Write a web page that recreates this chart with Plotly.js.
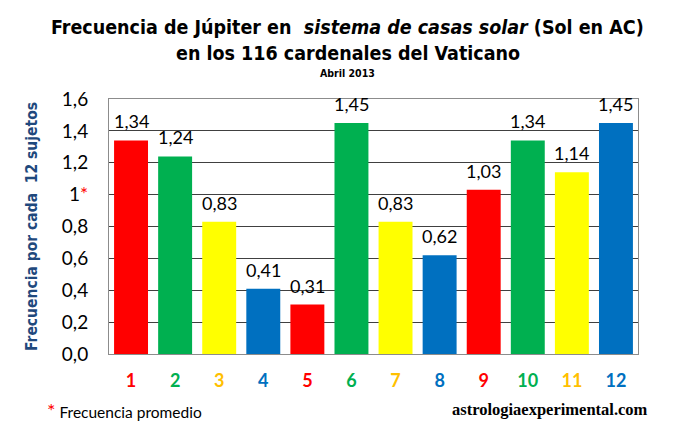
<!DOCTYPE html>
<html><head><meta charset="utf-8">
<script src="https://cdn.plot.ly/plotly-3.0.1.min.js"></script>
<style>html,body{margin:0;padding:0;background:#fff}#chart{width:677px;height:442px}</style>
</head><body><div id="chart"></div>
<script>
const casas = ['1','2','3','4','5','6','7','8','9','10','11','12'];
const frecuencia = [1.34,1.24,0.83,0.41,0.31,1.45,0.83,0.62,1.03,1.34,1.14,1.45];
const etiquetas = ['1,34','1,24','0,83','0,41','0,31','1,45','0,83','0,62','1,03','1,34','1,14','1,45'];
const coloresBarra = ['#FF0000','#00B050','#FFFF00','#0070C0','#FF0000','#00B050','#FFFF00','#0070C0','#FF0000','#00B050','#FFFF00','#0070C0'];
const coloresTexto = ['#FF0000','#00B050','#FFC000','#0070C0','#FF0000','#00B050','#FFC000','#0070C0','#FF0000','#00B050','#FFC000','#0070C0'];
const yTicks = [0,0.2,0.4,0.6,0.8,1,1.2,1.4,1.6];
const yTickText = ['0,0','0,2','0,4','0,6','0,8','1<span style="color:#FF0000">*</span>','1,2','1,4','1,6'];

const condensed = '"DejaVu Sans Condensed", "Liberation Sans Narrow", sans-serif';
const body = 'Lato, "Open Sans", sans-serif';

const trace = {
  type: 'bar', x: casas, y: frecuencia,
  marker: {color: coloresBarra, line: {width: 0}},
  hoverinfo: 'skip'
};

// category index i corresponds to casas[i]
const valueAnnotations = casas.map((c, i) => ({
  x: i, y: frecuencia[i], xref: 'x', yref: 'y', text: etiquetas[i],
  showarrow: false, yanchor: 'bottom', yshift: 6,
  font: {family: body, size: 18, color: '#000'}
}));

const titleX = 0.451;
const layout = {
  width: 677, height: 442,
  margin: {l: 109, r: 39, t: 99, b: 88},
  paper_bgcolor: '#fff', plot_bgcolor: '#fff',
  bargap: 0.23,
  showlegend: false,
  xaxis: {
    type: 'category', range: [-0.5, casas.length - 0.5], autorange: false,
    tickmode: 'array', tickvals: casas,
    ticktext: casas.map((c,i) => '<b><span style="color:' + coloresTexto[i] + '">' + c + '</span></b>'),
    tickfont: {family: body, size: 18},
    ticklabelstandoff: 10,
    showline: true, mirror: true, linecolor: '#8c8c8c', linewidth: 1,
    ticks: '', ticklen: 0, showgrid: false, zeroline: false
  },
  yaxis: {
    range: [0, 1.6], autorange: false,
    tickmode: 'array', tickvals: yTicks, ticktext: yTickText,
    tickfont: {family: body, size: 19, color: '#000'},
    ticklabelstandoff: 16,
    showgrid: true, gridcolor: '#404040', gridwidth: 1,
    showline: true, mirror: true, linecolor: '#8c8c8c', linewidth: 1,
    zeroline: false, ticks: '', ticklen: 0,
    title: {text: '<b>Frecuencia por cada  12 sujetos</b>', font: {family: condensed, size: 15.5, color: '#1F497D'}, standoff: 20}
  },
  annotations: valueAnnotations.concat([
    {text: '<b>Frecuencia de Júpiter en  <i>sistema de casas solar</i> (Sol en AC)</b>', xref: 'paper', yref: 'paper', x: titleX, y: 1, yshift: 72, xanchor: 'center', yanchor: 'middle', showarrow: false,
     font: {family: condensed, size: 19.5, color: '#000'}},
    {text: '<b>en los 116 cardenales del Vaticano</b>', xref: 'paper', yref: 'paper', x: titleX, y: 1, yshift: 46, xanchor: 'center', yanchor: 'middle', showarrow: false,
     font: {family: condensed, size: 19.5, color: '#000'}},
    {text: '<b>Abril 2013</b>', xref: 'paper', yref: 'paper', x: titleX, y: 1, yshift: 26, xanchor: 'center', yanchor: 'middle', showarrow: false,
     font: {family: condensed, size: 10.5, color: '#000'}},
    {text: '<span style="color:#FF0000;font-size:20px">*</span> Frecuencia promedio', xref: 'paper', yref: 'paper', x: 0, y: 0, xshift: -64, yshift: -56, xanchor: 'left', yanchor: 'middle', showarrow: false,
     font: {family: body, size: 15.5, color: '#000'}},
    {text: '<b>astrologiaexperimental.com</b>', xref: 'paper', yref: 'paper', x: 1, y: 0, xshift: 12, yshift: -55, xanchor: 'right', yanchor: 'middle', showarrow: false,
     font: {family: '"Liberation Serif", serif', size: 16.5, color: '#000'}}
  ])
};
Plotly.newPlot('chart', [trace], layout, {staticPlot: true, displayModeBar: false});
</script></body></html>
